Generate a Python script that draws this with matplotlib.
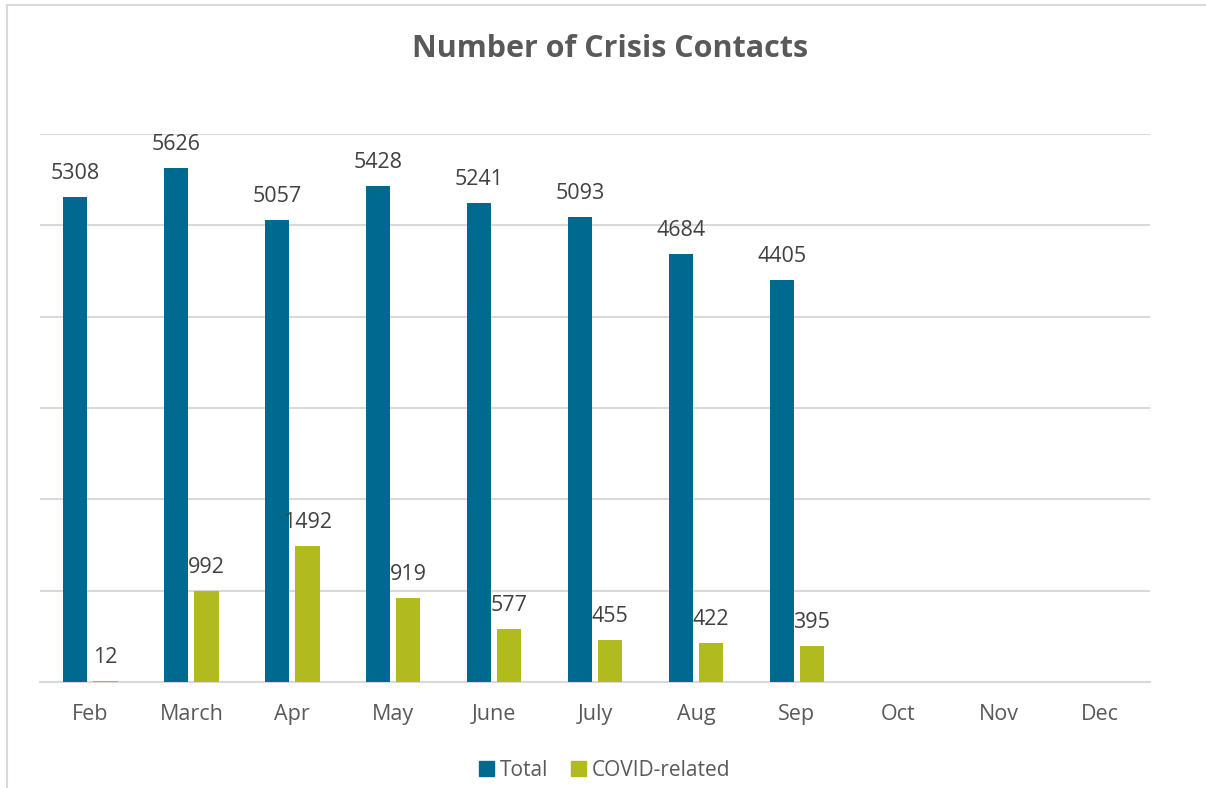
import numpy as np
import matplotlib
matplotlib.use("Agg")
import matplotlib.pyplot as plt
from matplotlib.lines import Line2D
from matplotlib.patches import Patch

plt.rcParams['font.family'] = ['Open Sans', 'DejaVu Sans']

# data
months = ['Feb', 'March', 'Apr', 'May', 'June', 'July', 'Aug', 'Sep', 'Oct', 'Nov', 'Dec']
total = [5308, 5626, 5057, 5428, 5241, 5093, 4684, 4405]
covid = [12, 992, 1492, 919, 577, 455, 422, 395]

blue = '#00698F'
green = '#B2BB1E'
grid_col = '#D9D9D9'
label_col = '#404040'
tick_col = '#595959'

fig = plt.figure(figsize=(12.06, 7.88), dpi=100)
ax = fig.add_axes([40 / 1206, 1 - 682 / 788, 1110 / 1206, 548 / 788])

# chart frame: only left and top edges are in the screenshot
fx = 7 / 1206
fy = 1 - 5 / 788
fig.lines.append(Line2D([fx, fx], [0, fy], transform=fig.transFigure, color=grid_col, linewidth=1.5))
fig.lines.append(Line2D([fx, 1], [fy, fy], transform=fig.transFigure, color=grid_col, linewidth=1.5))

x = np.arange(len(months))
w = 0.24
off = 0.15
xt = x[:len(total)]
b1 = ax.bar(xt - off, total, w, color=blue, label='Total', zorder=3)
b2 = ax.bar(xt + off, covid, w, color=green, label='COVID-related', zorder=3)

for bars, vals in ((b1, total), (b2, covid)):
    for r, v in zip(bars, vals):
        ax.annotate(str(v), (r.get_x() + r.get_width() / 2, v),
                    xytext=(0, 13), textcoords='offset points',
                    ha='center', va='baseline', fontsize=15.5, color=label_col)

ax.set_xlim(-0.5, len(months) - 0.5)
ax.set_ylim(0, 6000)
ax.set_yticks(np.arange(0, 6001, 1000))
ax.yaxis.grid(True, color=grid_col, linewidth=1.5, zorder=0)
ax.set_yticklabels([])
ax.tick_params(axis='y', length=0)
ax.set_xticks(x)
ax.set_xticklabels(months, fontsize=15.5, color=tick_col)
ax.tick_params(axis='x', length=0, pad=16)
for s in ['top', 'right', 'left']:
    ax.spines[s].set_visible(False)
ax.spines['bottom'].set_color(grid_col)
ax.spines['bottom'].set_linewidth(1.5)

fig.text(610 / 1206, 1 - 49 / 788, 'Number of Crisis Contacts', ha='center', va='center',
         fontsize=22, fontweight='bold', color=tick_col)

handles = [Patch(color=blue, label='Total'), Patch(color=green, label='COVID-related')]
fig.legend(handles=handles, loc='center', bbox_to_anchor=(605 / 1206, 1 - 770 / 788),
           ncol=2, frameon=False, fontsize=15, labelcolor=tick_col,
           handlelength=0.7, handleheight=0.7, handletextpad=0.3, columnspacing=1.1)

fig.savefig('out.png', dpi=100)
